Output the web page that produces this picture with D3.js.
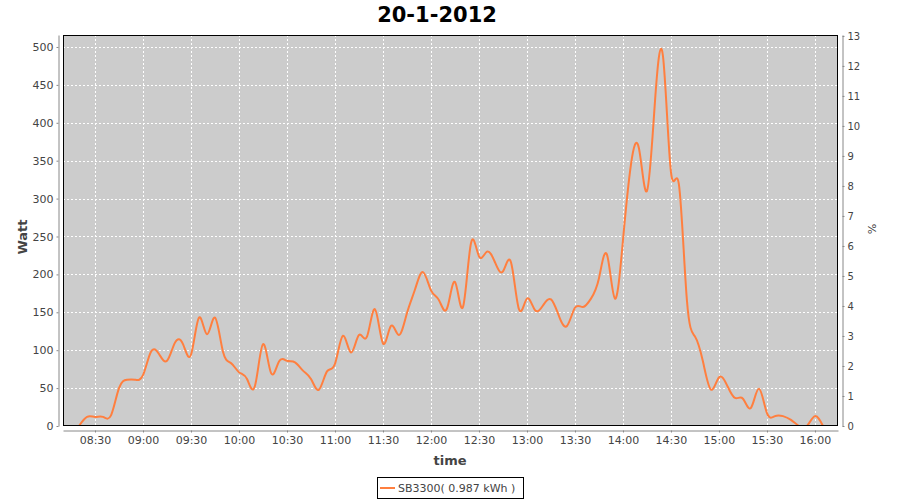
<!DOCTYPE html>
<html><head><meta charset="utf-8">
<script src="https://cdn.jsdelivr.net/npm/d3@7"></script>
<style>
body{margin:0;background:#fff;}
text{font-family:"DejaVu Sans",sans-serif;}
</style></head>
<body><svg id="c" width="900" height="500"></svg>
<script>
const title = "20-1-2012";
const seriesName = "SB3300( 0.987 kWh )";
const times = ["08:20","08:25","08:30","08:35","08:40","08:45","08:50","08:55",
"09:00","09:05","09:10","09:15","09:20","09:25","09:30","09:35","09:40","09:45","09:50","09:55",
"10:00","10:05","10:10","10:15","10:20","10:25","10:30","10:35","10:40","10:45","10:50","10:55",
"11:00","11:05","11:10","11:15","11:20","11:25","11:30","11:35","11:40","11:45","11:50","11:55",
"12:00","12:05","12:10","12:15","12:20","12:25","12:30","12:35","12:40","12:45","12:50","12:55",
"13:00","13:05","13:10","13:15","13:20","13:25","13:30","13:35","13:40","13:45","13:50","13:55",
"14:00","14:05","14:10","14:15","14:20","14:25","14:30","14:35","14:40","14:45","14:50","14:55",
"15:00","15:05","15:10","15:15","15:20","15:25","15:30","15:35","15:40","15:45","15:50","15:55",
"16:00","16:05"];
const watts = [0,12,12,12,14,50,61,61,
67,98,95,86,110,108,94,143,121,143,98,83,
71,62,53,108,70,85,86,84,73,62,48,72,
82,119,97,120,118,154,109,132,120,149,180,203,
179,166,155,190,157,241,224,230,216,204,216,154,
168,153,159,167,145,132,156,157,168,195,226,168,
245,345,366,310,428,488,335,318,165,118,85,48,
64,54,37,36,24,49,17,13,13,8,0,0,
13,0];
const timeTicks = ["08:30","09:00","09:30","10:00","10:30","11:00","11:30","12:00","12:30","13:00","13:30","14:00","14:30","15:00","15:30","16:00"];
const wattTicks = [0,50,100,150,200,250,300,350,400,450,500];
const pctTicks = [0,1,2,3,4,5,6,7,8,9,10,11,12,13];
const xDomain = ["08:10","16:14:24"];

const parse = s => d3.timeParse(s.length > 5 ? "%H:%M:%S" : "%H:%M")(s);
const data = times.map((t,i)=>({t:parse(t), v:watts[i]}));

const svg = d3.select("#c");
const L=63, R=838, T=35, B=426;
const x = d3.scaleTime().domain(xDomain.map(parse)).range([L,R]);
const y = d3.scaleLinear().domain([0,515.8]).range([B,T]);
const y2 = d3.scaleLinear().domain([0,13.03]).range([B,T]);

svg.append("rect").attr("x",L).attr("y",T).attr("width",R-L).attr("height",B-T).attr("fill","#cccccc");

// grid
const g = svg.append("g");
g.selectAll("line.v").data(timeTicks).join("line")
 .attr("x1",d=>Math.round(x(parse(d)))+0.5).attr("x2",d=>Math.round(x(parse(d)))+0.5)
 .attr("y1",T).attr("y2",B).attr("stroke","#fff").attr("stroke-dasharray","2,2");
g.selectAll("line.h").data(wattTicks.slice(1)).join("line")
 .attr("y1",d=>Math.round(y(d))+0.5).attr("y2",d=>Math.round(y(d))+0.5)
 .attr("x1",L).attr("x2",R).attr("stroke","#fff").attr("stroke-dasharray","2,2");

// line
svg.append("defs").append("clipPath").attr("id","clip").append("rect")
 .attr("x",L).attr("y",T).attr("width",R-L).attr("height",B-T);
const line = d3.line().x(d=>x(d.t)).y(d=>y(d.v)).curve(d3.curveNatural);
svg.append("path").datum(data).attr("d",line).attr("fill","none")
 .attr("stroke","#ff7f3f").attr("stroke-width",2).attr("clip-path","url(#clip)");

svg.append("rect").attr("x",L+0.5).attr("y",T+0.5).attr("width",R-L-1).attr("height",B-T-1)
 .attr("fill","none").attr("stroke","#000");

// axes
const axisColor="#888", labColor="#444";
function style(sel){
  sel.select(".domain").attr("stroke",axisColor);
  sel.selectAll(".tick line").attr("stroke",axisColor);
  sel.selectAll(".tick text").attr("fill",labColor).style("font-size","11px").style("font-family","DejaVu Sans");
}
const ax = svg.append("g").attr("transform",`translate(0,${B+4.5})`)
 .call(d3.axisBottom(x).tickValues(timeTicks.map(parse)).tickFormat(d3.timeFormat("%H:%M")).tickSizeInner(2).tickSizeOuter(0).tickPadding(4));
style(ax);
const ay = svg.append("g").attr("transform",`translate(${L-4.5},0)`)
 .call(d3.axisLeft(y).tickValues(wattTicks).tickSizeInner(2).tickSizeOuter(0).tickPadding(3));
style(ay);
const ay2 = svg.append("g").attr("transform",`translate(${R+4.5},0)`)
 .call(d3.axisRight(y2).tickValues(pctTicks).tickSizeInner(2).tickSizeOuter(0).tickPadding(3));
style(ay2);
ay2.selectAll(".tick text").style("font-size","10px");

// titles
svg.append("text").attr("x",437).attr("y",22).attr("text-anchor","middle")
 .style("font-size","21px").style("font-weight","bold").attr("fill","#000").text(title);
svg.append("text").attr("transform","translate(27,237) rotate(-90)").attr("text-anchor","middle")
 .style("font-size","13px").style("font-weight","bold").attr("fill",labColor).text("Watt");
svg.append("text").attr("x",450).attr("y",465).attr("text-anchor","middle")
 .style("font-size","13px").style("font-weight","bold").attr("fill",labColor).text("time");
svg.append("text").attr("transform","translate(868,229) rotate(90)").attr("text-anchor","middle")
 .style("font-size","11px").attr("fill",labColor).text("%");

// legend
const lg = svg.append("g");
lg.append("rect").attr("x",377.5).attr("y",477.5).attr("width",146).attr("height",21).attr("fill","#fff").attr("stroke","#000");
lg.append("line").attr("x1",380).attr("x2",395).attr("y1",488).attr("y2",488).attr("stroke","#ff7f3f").attr("stroke-width",2);
lg.append("text").attr("x",398).attr("y",492).style("font-size","11px").attr("fill",labColor).text(seriesName);
</script></body></html>
